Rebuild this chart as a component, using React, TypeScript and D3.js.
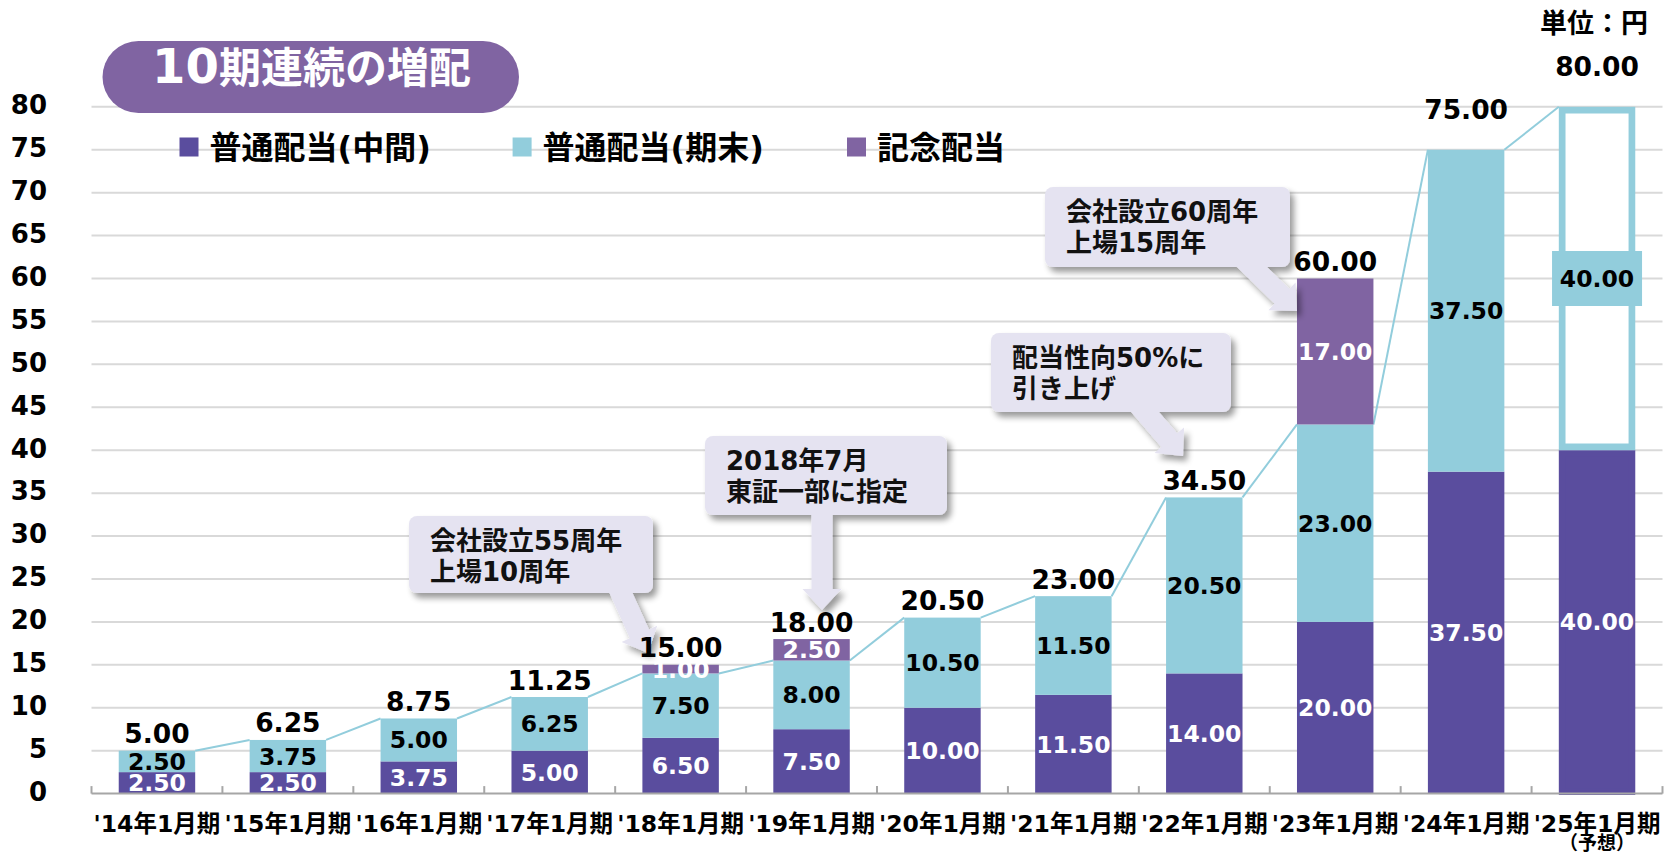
import React from 'react';
import * as d3 from 'd3';

// ---------- data ----------
const categories = ["'14年1月期", "'15年1月期", "'16年1月期", "'17年1月期", "'18年1月期", "'19年1月期", "'20年1月期", "'21年1月期", "'22年1月期", "'23年1月期", "'24年1月期", "'25年1月期"];
const interim = [2.5, 2.5, 3.75, 5.0, 6.5, 7.5, 10.0, 11.5, 14.0, 20.0, 37.5, 40.0];
const yearEnd = [2.5, 3.75, 5.0, 6.25, 7.5, 8.0, 10.5, 11.5, 20.5, 23.0, 37.5, 40.0];
const commemorative = [0, 0, 0, 0, 1.0, 2.5, 0, 0, 0, 17.0, 0, 0];
const totals = [5.0, 6.25, 8.75, 11.25, 15.0, 18.0, 20.5, 23.0, 34.5, 60.0, 75.0, 80.0];
const yTicks = [0, 5, 10, 15, 20, 25, 30, 35, 40, 45, 50, 55, 60, 65, 70, 75, 80];
const seriesNames = ['普通配当(中間)', '普通配当(期末)', '記念配当'];
const forecastIndex = 11;
const forecastNote = '（予想）';
const titleNum = '10';
const titleText = '期連続の増配';
const unitText = '単位：円';
const calloutLines = [
  ['会社設立55周年', '上場10周年'],
  ['2018年7月', '東証一部に指定'],
  ['配当性向50%に', '引き上げ'],
  ['会社設立60周年', '上場15周年'],
];

// ---------- styles ----------
const C_INT = '#5A4D9E';
const C_END = '#92CDDC';
const C_COM = '#8064A2';
const C_CALL = '#E5E3F1';
const NUM_FONT = '"DejaVu Sans", "Noto Sans CJK JP", sans-serif';
const JP_FONT = '"Noto Sans CJK JP", sans-serif';

const W = 1675;
const H = 856;

// callout layouts (box + arrow start/tip)
const calloutLayout = [
  { x: 409, y: 516, w: 244, h: 77, sx: 621, sy: 593, tx: 648, ty: 653 },
  { x: 705, y: 436, w: 242, h: 79, sx: 822, sy: 515, tx: 822, ty: 610 },
  { x: 991, y: 333, w: 240, h: 79, sx: 1145, sy: 412, tx: 1183, ty: 456 },
  { x: 1045, y: 187, w: 245, h: 80, sx: 1252, sy: 267, tx: 1297, ty: 311 },
];

function arrowPath(sx: number, sy: number, tx: number, ty: number) {
  const dx = tx - sx, dy = ty - sy;
  const L = Math.hypot(dx, dy);
  const ux = dx / L, uy = dy / L;
  const nx = -uy, ny = ux;
  const sw = 10.5, hw = 19.5, hl = 21;
  const s0x = sx - ux * 14, s0y = sy - uy * 14;
  const bx = tx - ux * hl, by = ty - uy * hl;
  const pts: [number, number][] = [
    [s0x + nx * sw, s0y + ny * sw],
    [bx + nx * sw, by + ny * sw],
    [bx + nx * hw, by + ny * hw],
    [tx, ty],
    [bx - nx * hw, by - ny * hw],
    [bx - nx * sw, by - ny * sw],
    [s0x - nx * sw, s0y - ny * sw],
  ];
  return 'M' + pts.map(p => p[0].toFixed(1) + ',' + p[1].toFixed(1)).join('L') + 'Z';
}

export default function App() {
  const x = d3.scaleBand<string>().domain(categories).range([91.5, 1662.5]).padding(0);
  const y = d3.scaleLinear().domain([0, 80]).range([793.6, 106.8]);
  const step = x.bandwidth();
  const barW = step * 0.584;
  const bx = (c: string) => (x(c) as number) + (step - barW) / 2;
  const cx = (c: string) => (x(c) as number) + step / 2;

  const rows = categories.map((c, i) => ({ cat: c, interim: interim[i], yearEnd: yearEnd[i], commem: commemorative[i] }));
  const stack = d3.stack<any>().keys(['interim', 'yearEnd', 'commem']);
  const layers = stack(rows);
  const colors = [C_INT, C_END, C_COM];
  const labelColors = ['#fff', '#000', '#fff'];

  const fmt = d3.format('.2f');
  const left = 91.5, right = 1662.5;

  const seriesLines = categories.slice(0, -1).map((c, i) => {
    const c2 = categories[i + 1];
    const v1 = interim[i] + yearEnd[i];
    const v2 = interim[i + 1] + yearEnd[i + 1];
    return { x1: bx(c) + barW, y1: y(v1), x2: bx(c2), y2: y(v2) };
  });

  const legendX = [179.5, 512.6, 847];
  const fStroke = 6.7;

  return (
    <div style={{ position: 'absolute', left: 0, top: 0, width: W, height: H, background: '#fff' }}>
      <svg width={W} height={H} style={{ display: 'block' }}>
        <defs>
          <filter id="shadow" x="-20%" y="-20%" width="150%" height="160%">
            <feGaussianBlur in="SourceAlpha" stdDeviation="3" />
            <feOffset dx="4" dy="5" result="off" />
            <feComponentTransfer>
              <feFuncA type="linear" slope="0.4" />
            </feComponentTransfer>
            <feMerge>
              <feMergeNode />
              <feMergeNode in="SourceGraphic" />
            </feMerge>
          </filter>
        </defs>

        {/* gridlines */}
        {yTicks.filter(t => t > 0).map(t => (
          <line key={'g' + t} x1={left} x2={right} y1={y(t)} y2={y(t)} stroke="#D9D9D9" strokeWidth={2} />
        ))}

        {/* y labels */}
        {yTicks.map(t => (
          <text key={'yl' + t} x={47} y={y(t) - 2} dy="0.36em" textAnchor="end" fontFamily={NUM_FONT} fontWeight="bold" fontSize={26} fill="#000">{t}</text>
        ))}

        {/* series lines */}
        {seriesLines.map((l, i) => (
          <line key={'sl' + i} x1={l.x1} y1={l.y1} x2={l.x2} y2={l.y2} stroke={C_END} strokeWidth={2} />
        ))}

        {/* bars */}
        {layers.map((layer, li) => layer.map((d, i) => {
          const c = categories[i];
          const v = d[1] - d[0];
          if (v <= 0) return null;
          if (i === forecastIndex) {
            if (li === 0) {
              return <rect key={'b' + li + i} x={bx(c) + fStroke / 2} y={y(d[1]) + fStroke / 2} width={barW - fStroke} height={y(d[0]) - y(d[1]) - fStroke / 2 - 2} fill={colors[li]} stroke={colors[li]} strokeWidth={fStroke} />;
            }
            return <rect key={'b' + li + i} x={bx(c) + fStroke / 2} y={y(d[1]) + fStroke / 2} width={barW - fStroke} height={y(d[0]) - y(d[1]) - fStroke} fill="#fff" stroke={colors[li]} strokeWidth={fStroke} />;
          }
          return <rect key={'b' + li + i} x={bx(c)} y={y(d[1])} width={barW} height={y(d[0]) - y(d[1])} fill={colors[li]} />;
        }))}

        {/* axis */}
        <line x1={left} x2={right} y1={y(0)} y2={y(0)} stroke="#A6A6A6" strokeWidth={2} />
        {categories.map((c, i) => (
          <line key={'t' + i} x1={x(c)} x2={x(c)} y1={y(0)} y2={y(0) - 7.5} stroke="#A6A6A6" strokeWidth={2} />
        ))}
        <line x1={right} x2={right} y1={y(0)} y2={y(0) - 7.5} stroke="#A6A6A6" strokeWidth={2} />

        {/* callouts */}
        {calloutLayout.map((b, k) => (
          <g key={'co' + k} filter="url(#shadow)">
            <path d={arrowPath(b.sx, b.sy, b.tx, b.ty)} fill={C_CALL} />
            <rect x={b.x} y={b.y} width={b.w} height={b.h} rx={8} fill={C_CALL} />
          </g>
        ))}
        {calloutLayout.map((b, k) => (
          <g key={'ct' + k}>
            {calloutLines[k].map((ln, j) => (
              <text key={j} x={b.x + 21} y={b.y + 25 + j * 31} dy="0.36em" fontFamily={NUM_FONT} fontWeight="bold" fontSize={26} fill="#111">{ln}</text>
            ))}
          </g>
        ))}

        {/* segment labels */}
        {layers.map((layer, li) => layer.map((d, i) => {
          const c = categories[i];
          const v = d[1] - d[0];
          if (v <= 0) return null;
          const ymid = (y(d[0]) + y(d[1])) / 2;
          if (i === forecastIndex && li === 1) {
            return (
              <g key={'sg' + li + i}>
                <rect x={cx(c) - 45} y={ymid - 27.5} width={90} height={55} fill={C_END} />
                <text x={cx(c)} y={ymid} dy="0.36em" textAnchor="middle" fontFamily={NUM_FONT} fontWeight="bold" fontSize={23.5} fill="#000">{fmt(v)}</text>
              </g>
            );
          }
          return (
            <text key={'sg' + li + i} x={cx(c)} y={ymid} dy="0.36em" textAnchor="middle" fontFamily={NUM_FONT} fontWeight="bold" fontSize={23.5} fill={labelColors[li]}>{fmt(v)}</text>
          );
        }))}

        {/* total labels */}
        {totals.map((t, i) => {
          const c = categories[i];
          const lift = t >= 70 ? 40 : 17;
          return (
            <text key={'tl' + i} x={cx(c)} y={y(t) - lift} dy="0.36em" textAnchor="middle" fontFamily={NUM_FONT} fontWeight="bold" fontSize={26.5} fill="#000">{fmt(t)}</text>
          );
        })}

        {/* x labels */}
        {categories.map((c, i) => (
          <text key={'xl' + i} x={cx(c)} y={824} dy="0.36em" textAnchor="middle" fontFamily={NUM_FONT} fontWeight="bold" fontSize={23.5} fill="#000">{c}</text>
        ))}
        <text x={cx(categories[forecastIndex])} y={843} dy="0.36em" textAnchor="middle" fontFamily={JP_FONT} fontWeight="bold" fontSize={19} fill="#000">{forecastNote}</text>

        {/* legend */}
        {seriesNames.map((n, i) => (
          <g key={'lg' + i}>
            <rect x={legendX[i]} y={137.5} width={19} height={19} fill={colors[i]} />
            <text x={legendX[i] + 30} y={147} dy="0.36em" fontFamily={NUM_FONT} fontWeight="bold" fontSize={32} fill="#000">{n}</text>
          </g>
        ))}

        {/* title pill */}
        <rect x={102.5} y={41} width={416.5} height={72} rx={36} fill={C_COM} />
        <text x={311.5} y={77} dy="0.36em" textAnchor="middle" fill="#fff" fontWeight="bold">
          <tspan fontFamily={NUM_FONT} fontSize={48}>{titleNum}</tspan>
          <tspan fontFamily={JP_FONT} fontSize={42}>{titleText}</tspan>
        </text>

        {/* unit */}
        <text x={1648} y={23} dy="0.36em" textAnchor="end" fontFamily={JP_FONT} fontWeight="bold" fontSize={27} fill="#000">{unitText}</text>
      </svg>
    </div>
  );
}
